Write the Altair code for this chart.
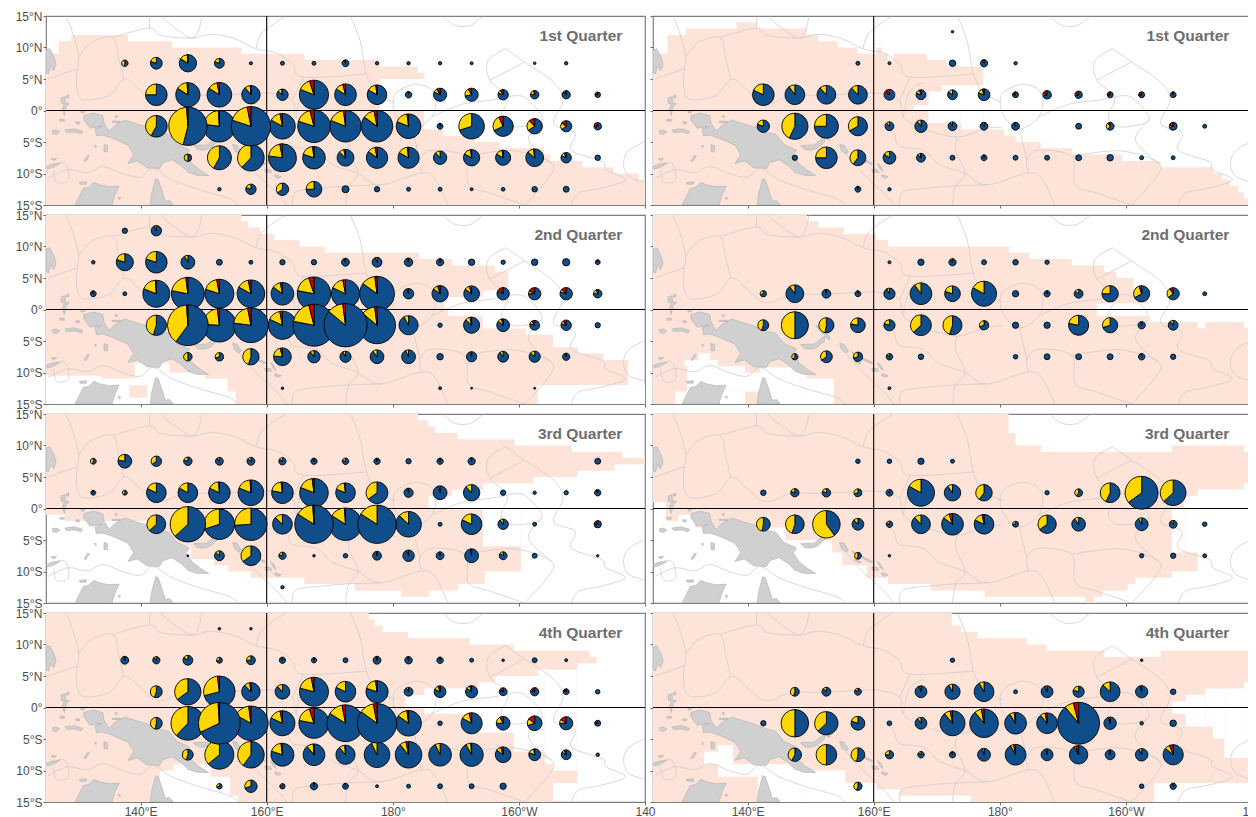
import math
import altair as alt
import pandas as pd

BLUE, YELLOW, RED = "#104E8B", "#FFD700", "#CD0000"
SALMON, LAND, LAND_EDGE, EEZ = "#FEE4D8", "#D0D0D0", "#A6A6A6", "#C9C9C9"
TITLES = ["1st Quarter", "1st Quarter", "2nd Quarter", "2nd Quarter",
          "3rd Quarter", "3rd Quarter", "4th Quarter", "4th Quarter"]

# pies: latitude -> (longitude, size, yellow share, red share)
P1 = {
 7.5: [(137.5,3.3,.45,0),(142.5,6,.2,0),(147.5,8.8,.15,.01),(152.5,5,.2,0),(157.5,1.6,0,0),(162.5,2,0,0),(167.5,2,0,0),(172.5,3.5,.05,0),(177.5,1.7,0,0),(182.5,1.7,0,0),(187.5,1.7,0,0),(192.5,1.5,0,0),(202.5,1.3,0,0),(207.5,1.7,0,0)],
 2.5: [(142.5,11,.25,0),(147.5,12.3,.15,.01),(152.5,12.5,.13,.03),(157.5,9.3,.1,.01),(162.5,5.8,.12,.02),(167.5,14.8,.14,.05),(172.5,11,.12,.04),(177.5,10,.15,.02),(182.5,3.3,.02,0),(187.5,6.7,.1,.08),(192.5,6.7,.2,.08),(197.5,5.3,.1,.1),(202.5,4.3,.2,.03),(207.5,4.2,.08,.03),(212.5,2.8,.03,.2)],
 -2.5: [(142.5,11,.42,0),(147.5,19.5,.45,.01),(152.5,16,.22,.01),(157.5,20,.17,.03),(162.5,13,.14,.03),(167.5,16.5,.16,.04),(172.5,16,.17,.02),(177.5,16,.12,.03),(182.5,12.5,.17,.02),(187.5,3,.03,0),(192.5,13,.3,0),(197.5,10.3,.25,.07),(202.5,7.8,.22,.12),(207.5,5.7,.2,.15),(212.5,3.8,.08,.25)],
 -7.5: [(147.5,3.8,.5,0),(152.5,12.2,.42,0),(157.5,13.5,.38,0),(162.5,14.2,.2,.03),(167.5,11.5,.18,.02),(172.5,8.5,.1,.03),(177.5,10.8,.12,.03),(182.5,10.7,.15,.02),(187.5,6.8,.12,0),(192.5,8.3,.15,.02),(197.5,7.7,.15,.02),(202.5,9,.12,.02),(207.5,5.3,.12,.06),(212.5,2.8,0,0)],
 -12.5: [(152.5,1.7,0,0),(157.5,5.3,.2,0),(162.5,6.3,.35,0),(167.5,8,.25,0),(172.5,3.6,0,0),(177.5,2.7,0,0),(182.5,2,0,0),(187.5,2,0,0),(192.5,1.5,0,0),(197.5,1.9,0,0),(202.5,2.8,0,0),(207.5,3,0,0)],
}
P2 = {
 12.5: [(172.5,1.3,0,0)],
 7.5: [(157.5,2,0,0),(162.5,1.5,0,0),(172.5,3.3,0,0),(177.5,3.7,.05,0),(182.5,1.7,0,0)],
 2.5: [(142.5,11,.18,0),(147.5,10,.1,0),(152.5,9.5,.12,0),(157.5,9.5,.12,0),(162.5,5.5,.05,.12),(167.5,5,.15,.05),(172.5,5,.15,0),(177.5,6,.15,.05),(182.5,3,.03,.2),(187.5,4.3,.1,.2),(192.5,3.8,.1,.2),(197.5,3,.03,.25),(202.5,3,.02,.25),(207.5,3,.02,.02)],
 -2.5: [(142.5,6.3,.2,0),(147.5,13.3,.43,0),(152.5,12.2,.25,0),(157.5,9.7,.33,0),(162.5,4.5,.12,0),(167.5,6.3,.1,0),(172.5,4.5,.08,0),(177.5,4,.08,0),(182.5,4,.08,.02),(192.5,3,0,0),(197.5,4,.3,.1),(207.5,4,.1,.2),(212.5,2,0,0)],
 -7.5: [(147.5,2.7,0,0),(152.5,11,.25,0),(157.5,8,.4,0),(162.5,6.5,.15,0),(167.5,4.5,.1,.02),(172.5,2.5,0,0),(177.5,3,.02,0),(182.5,2.5,0,0),(187.5,2.5,0,0),(192.5,3,0,0),(197.5,3.3,0,0),(202.5,2,0,0),(207.5,2,0,0)],
 -12.5: [(157.5,3,.02,0),(162.5,1.7,0,0)],
}
P3 = {
 12.5: [(137.5,2.7,0,0),(142.5,5.3,.06,0)],
 7.5: [(132.5,1.8,0,0),(137.5,8.7,.2,0),(142.5,11,.2,0),(147.5,7,.08,0),(152.5,3,0,0),(157.5,2,0,0),(162.5,2.7,0,0),(167.5,2.7,0,0),(172.5,4,.05,0),(177.5,5,.06,0),(182.5,4.3,.05,0),(187.5,3.7,.03,0),(192.5,3.3,0,0),(197.5,2.2,0,0),(202.5,3.3,0,0),(207.5,3.7,0,0),(212.5,2.5,0,.1)],
 2.5: [(132.5,3,.04,0),(137.5,2,0,0),(142.5,13.7,.18,.01),(147.5,16.7,.2,.02),(152.5,14.7,.17,.03),(157.5,14,.14,.03),(162.5,11.5,.12,.03),(167.5,17,.17,.05),(172.5,14.3,.15,.03),(177.5,17.7,.13,.02),(182.5,5.3,.05,0),(187.5,8.3,.1,.05),(192.5,8,.1,.05),(197.5,6.3,.05,.12),(202.5,6.3,.08,.17),(207.5,6.3,.07,.13),(212.5,4.3,.2,.05)],
 -2.5: [(142.5,10.3,.45,0),(147.5,20.7,.39,.01),(152.5,17,.22,.02),(157.5,17.7,.2,.03),(162.5,14.3,.15,.03),(167.5,21.3,.18,.04),(172.5,22,.12,.02),(177.5,18.8,.12,.02),(182.5,9.7,.08,0),(187.5,2.2,0,0),(192.5,8.2,.1,.03),(197.5,6.5,.1,.04),(202.5,5,.1,.1),(207.5,5.3,.1,.1),(212.5,2.7,0,0)],
 -7.5: [(147.5,4.3,.5,0),(152.5,4.3,.3,0),(157.5,8.3,.45,0),(162.5,9,.2,.04),(167.5,6.3,.1,0),(172.5,5.7,.08,0),(177.5,7,.1,0),(182.5,7,.07,0),(187.5,3.3,0,0),(192.5,5.2,.05,0),(197.5,5.5,.1,0),(202.5,5.7,.13,0),(207.5,3.7,.05,0)],
 -12.5: [(162.5,1.3,0,0),(187.5,1.5,0,0),(192.5,1,0,0),(202.5,1,0,0)],
}
P4 = {
 7.5: [(162.5,1.5,0,0),(167.5,3.2,0,0),(172.5,3.7,.08,0),(177.5,2.5,0,0),(182.5,2.8,0,0),(187.5,2.2,0,0)],
 2.5: [(142.5,3.2,.3,0),(147.5,9,.1,0),(152.5,4.5,.02,0),(157.5,3,.03,0),(162.5,5.7,.08,0),(167.5,11,.1,0),(172.5,8,.2,0),(177.5,12.7,.17,0),(182.5,3.2,0,0),(187.5,3.2,.03,0),(192.5,4.5,.15,0),(197.5,8.3,.25,0),(202.5,8.2,.28,.05),(207.5,6.2,.25,.1),(212.5,2,0,0)],
 -2.5: [(142.5,5.5,.45,0),(147.5,13.8,.5,0),(152.5,7.7,.47,0),(157.5,7.5,.22,0),(162.5,5.7,.2,0),(167.5,10.5,.37,0),(172.5,9.7,.45,0),(177.5,4.7,.3,0),(182.5,3.2,0,0),(187.5,3.2,0,0),(192.5,10.2,.22,0),(197.5,7.7,.3,0),(202.5,3.7,.03,0),(207.5,5,.1,0)],
 -7.5: [(147.5,3.2,.4,0),(152.5,6,.35,0),(157.5,4.7,.3,0),(162.5,3.3,.15,0),(167.5,2.8,0,0),(182.5,2.3,0,0),(187.5,3,0,0),(192.5,3,0,0),(197.5,3,0,0),(202.5,3.3,.02,0),(207.5,2.7,0,0)],
 -12.5: [(162.5,1.5,0,0)],
}
P5 = {
 7.5: [(132.5,3,.45,0),(137.5,7,.22,0),(142.5,5.3,.35,0),(147.5,4.3,.2,0),(152.5,4,.1,0),(157.5,4,.15,0),(162.5,3.7,.15,0),(167.5,3.2,.07,0),(172.5,3.3,.2,0),(177.5,3.2,.03,0),(182.5,2.7,0,0),(187.5,3.2,.02,0),(192.5,3.7,.02,0),(212.5,3,0,0)],
 2.5: [(132.5,2.5,.05,0),(137.5,2.5,.4,0),(142.5,10,.18,0),(147.5,10,.17,0),(152.5,11,.17,.01),(157.5,13,.18,.01),(162.5,11,.2,.02),(167.5,14.5,.17,.02),(172.5,10,.17,.02),(177.5,11,.35,0),(182.5,4.7,.03,0),(187.5,7,.03,0),(192.5,8.3,.12,0),(197.5,2.7,0,0),(202.5,1.7,0,0),(207.5,2.2,0,0),(212.5,3.2,.02,.08)],
 -2.5: [(142.5,9.5,.37,0),(147.5,18,.37,0),(152.5,15.5,.3,0),(157.5,16.5,.26,0),(162.5,10,.13,0),(167.5,19.5,.15,.01),(172.5,16.5,.15,.01),(177.5,19.5,.16,0),(182.5,13,.13,0),(187.5,2,0,0),(192.5,10.5,.18,0),(197.5,5.3,.1,0),(202.5,2,0,0),(212.5,3.7,.05,.2)],
 -7.5: [(147.5,1,0,0),(152.5,5,.13,0),(157.5,10,.35,0),(162.5,3.7,.2,0),(167.5,1.3,0,0),(172.5,2.3,0,0),(177.5,4.5,.03,0),(182.5,5.8,.05,0),(187.5,4,.02,0),(192.5,7,.02,0),(197.5,4,.15,0),(202.5,2.5,0,0),(212.5,1.2,0,0)],
 -12.5: [(162.5,1.7,0,0)],
}
P6 = {
 7.5: [(157.5,2.3,0,0),(162.5,2.3,0,0),(167.5,3.2,0,0),(172.5,2,0,0)],
 2.5: [(142.5,2.8,0,0),(147.5,4.2,.2,0),(152.5,4.3,.2,0),(157.5,4,.3,0),(162.5,3.5,.1,0),(167.5,13.7,.17,0),(172.5,8.3,.1,0),(177.5,8.3,.4,0),(187.5,2.2,0,0),(192.5,4,.4,0),(197.5,10,.43,0),(202.5,16.7,.35,0),(207.5,13,.37,0)],
 -2.5: [(142.5,7,.47,0),(147.5,9.5,.45,0),(152.5,14,.6,0),(157.5,6,.12,0),(162.5,3.3,.2,0),(167.5,9.5,.12,0),(172.5,11,.1,.05),(177.5,10,.15,.03),(182.5,3,.25,0),(187.5,9.3,.35,0),(192.5,7,.1,0),(202.5,6.5,.08,0),(207.5,4,.1,0),(212.5,2.3,0,0)],
 -7.5: [(157.5,3.5,.45,0),(162.5,1.3,0,0),(202.5,2.2,0,0),(207.5,2.7,0,0),(212.5,2,0,0)],
}
P7 = {
 12.5: [(152.5,1.3,0,0),(157.5,1.3,0,0)],
 7.5: [(137.5,4,.03,0),(142.5,3.7,.12,0),(147.5,5,.15,0),(152.5,3,.3,0),(157.5,4.5,.25,0),(162.5,3.2,.05,0),(167.5,2.7,.03,0),(172.5,2.5,0,0),(177.5,4,.03,0),(182.5,3.8,.03,0),(187.5,3.3,.03,0),(192.5,2,0,0),(197.5,1.3,0,0),(202.5,2.5,0,0),(207.5,1.5,0,0)],
 2.5: [(142.5,6,.45,0),(147.5,13.3,.35,0),(152.5,16,.27,.02),(157.5,9.3,.1,.02),(162.5,7.5,.12,0),(167.5,14.7,.18,.03),(172.5,10.5,.18,0),(177.5,11.3,.18,.02),(182.5,4.5,.08,0),(187.5,6,.13,.05),(192.5,6.2,.1,.05),(197.5,4,.07,.15),(202.5,4.2,.07,.15),(207.5,3,.03,.15),(212.5,2.3,0,0)],
 -2.5: [(142.5,6,.47,0),(147.5,17.2,.38,0),(152.5,21.3,.31,.01),(157.5,17.5,.15,.02),(162.5,12.7,.15,.03),(167.5,15.3,.17,.05),(172.5,18.7,.13,.03),(177.5,20,.12,.03),(182.5,13,.13,.02),(187.5,2.3,0,0),(192.5,10.7,.13,.04),(197.5,7,.17,.08),(202.5,7.5,.15,.15),(207.5,6.7,.1,.15),(212.5,3,.02,.2)],
 -7.5: [(147.5,5.5,.45,0),(152.5,14.7,.36,0),(157.5,13.5,.4,0),(162.5,11.7,.18,.02),(167.5,11,.1,.01),(172.5,9.7,.1,.01),(177.5,13,.07,0),(182.5,13.5,.08,.03),(187.5,11.5,.07,0),(192.5,11.8,.07,.01),(197.5,8,.1,.05),(202.5,6,.17,.02),(207.5,5,.1,.06),(212.5,1.8,0,0)],
 -12.5: [(152.5,2.8,.3,0),(157.5,6.3,.3,0),(162.5,2.7,.2,0),(167.5,3.7,.02,0),(172.5,3,.02,0),(177.5,1.5,0,0),(182.5,2,0,0),(187.5,2.5,0,0),(192.5,2.5,0,0),(197.5,3.2,0,0)],
}
P8 = {
 7.5: [(172.5,2.2,0,0),(202.5,1.3,0,0)],
 2.5: [(147.5,4.5,.45,0),(152.5,4.5,.12,0),(157.5,3.5,.15,0),(167.5,6,.04,0),(172.5,7.7,.08,0),(177.5,10,.08,0),(182.5,2,0,0),(187.5,6,.05,0),(192.5,5.7,.2,0),(197.5,10,.13,0),(202.5,6.2,.03,0),(207.5,2.8,0,0)],
 -2.5: [(142.5,2.7,0,0),(147.5,14,.5,0),(152.5,11.8,.37,0),(157.5,7,.2,0),(162.5,2.4,0,0),(167.5,6,.1,0),(172.5,12.7,.08,.03),(177.5,14.5,.08,.03),(182.5,11,.07,.02),(187.5,10.5,.08,.03),(192.5,21.3,.07,.04),(197.5,6.3,.03,.02),(202.5,1.8,0,0),(207.5,3.3,0,0)],
 -7.5: [(147.5,6.8,.42,0),(152.5,10.5,.5,0),(157.5,7,.47,0),(162.5,4.2,.25,0),(167.5,3.3,.15,0),(172.5,3.2,.06,0),(177.5,6.5,.05,0),(182.5,10.5,.05,.03),(187.5,6,.04,0),(192.5,9.3,.03,.05),(197.5,5,.03,0),(202.5,6.3,.07,0),(207.5,10.2,.08,.06)],
 -12.5: [(157.5,4.2,.45,0),(202.5,2.3,0,0),(207.5,3.2,.03,0)],
}
PIES = [P1, P2, P3, P4, P5, P6, P7, P8]

# shaded fishing area: stair edges (longitude, latitude) and white gaps (lon0, lon1, lat0, lat1)
TOP1 = [(125,9),(127,11),(129,12),(138,11),(145,10),(156,9),(166,8),(178,7),(184,6),(185,-3),(188,-4),(193,-5),(197,-6),(204,-7),(205,-8),(210,-9),(215,-10),(219,-11)]
TOP2 = [(125,9),(127.3,12),(130.2,13),(138.3,14),(141.4,13),(149.4,12),(151.2,11),(154.3,10),(157.4,9),(160.4,10),(161.3,9),(162.3,8),(163.2,9),(168.4,8),(171.5,7),(177.4,-3),(180.7,-4),(182.5,-5),(186.5,-6),(191.5,-7),(199.4,-8),(205.5,-9),(213.8,-10),(215.3,-11),(216.5,-12),(217.8,-13),(218.7,-14),(219.6,-15)]
TOP3 = [(125,15),(156,14),(157.1,13),(159,12),(161.2,11),(165.2,10),(169.2,9),(184.2,8),(189.4,7),(196.2,6),(198.3,-3),(201.1,-4),(205.4,-6),(209.4,-7),(213.4,-8),(217.3,-15)]
TOP4 = [(125,15),(149.4,14),(151.2,13),(155.3,12),(160.4,11),(162.3,10),(181.5,9),(184.7,8),(191.4,7),(196.6,6),(198.5,5),(201.2,3),(203.5,-2),(211.4,-3),(212.6,-2),(218.7,-3),(219.6,-4)]
TOP5 = [(125,15),(184,14),(185.5,13),(186.7,12),(190.3,11),(199.3,10),(208.4,9),(216.4,8)]
TOP6 = [(125,15),(181.4,12),(182.5,10),(186.5,9),(207.3,10),(218.7,9)]
TOP7 = [(125,15),(176.2,14),(177.1,13),(178.4,12),(182.4,11),(192.2,10),(199.2,9),(211.2,8),(212.3,-15)]
TOP8 = [(125,15),(172.4,13),(173.9,12),(176.4,11),(184.3,10),(187.4,9),(196.6,8),(205.5,9)]
BOT5 = [(125,-1),(128,-2),(141.5,-6),(148,-8),(151.7,-9),(153.8,-10),(157.5,-11),(166,-12),(174,-13),(181.4,-14),(185.7,-13),(190.3,-12),(194.6,-10),(200.3,4),(202.3,5),(209.3,6),(215.2,7)]
BOT6 = [(125,1),(127,-2),(129,-1),(131.6,-3),(146,-5),(153.4,-7),(155,-9),(158.9,-11),(162.3,-12),(169,-13),(177.6,-14),(193.5,-15),(195,-14),(196.3,-13),(200.3,-12),(201.5,-11),(207.3,-10),(211.4,3),(218.7,4)]
BOT7 = [(125,-15),(205.4,-12),(209.3,7),(212.3,-15)]
BOTTOMS = [[(125,-15)], [(125,-15)], [(125,-15)], [(125,-15)], BOT5, BOT6, BOT7, [(125,-15)]]
TOPS = [TOP1, TOP2, TOP3, TOP4, TOP5, TOP6, TOP7, TOP8]
GAPS = [
 [(178,185,0,5)],
 [(170.8,177.4,3,4),(168.7,177.4,.8,3),(166.4,177.4,0,.8),(168.7,173.9,-2,0),(173.9,177.4,-3,0)],
 [(188.2,194.3,0,2),(194.3,198.3,-3,3),(188.8,194.3,-1,0),(125,133.9,-15,-10.5),(133.9,138.2,-15,-11),(139.1,141.1,-12,-8.5),(138.2,141.1,-12,-11),(138.2,141.1,-15,-14),(141.1,144.6,-15,-8.5),(144.6,150.2,-15,-10),(150.2,153.8,-15,-11),(153.8,155.1,-15,-13),(203,220,-15,-12)],
 [(195.4,204.6,-1,1),(130,135.3,-9,-8),(132.2,134,-8,-7),(130.4,139.6,-13,-9),(128.5,139.6,-15,-13),(139.6,142,-13,-10),(142,149.4,-15,-9.2),(149.4,153.7,-15,-11)],
 [(185.7,194.3,0,2),(189.4,194.3,2,3),(194.3,200.3,-6,4)],
 [(207.3,209.3,-7,0),(209.3,211.4,-7,2)],
 [(182,185,0,2),(185,193.7,-1,3),(193.7,196.2,-4,4),(196.2,199.2,-4,5),(199.2,203,-7,5),(203,204.2,-7,6),(204.2,205.4,-9,6),(205.4,209.3,-10,6),(143.1,145.3,-15,-10),(145.3,151.1,-15,-9),(151.1,154.2,-15,-11),(154.2,155.4,-15,-14)],
 [(133.1,135.3,-9,-7),(135.3,137.7,-11,-6),(137.7,141.6,-11,-9),(141.6,149.4,-15,-9),(149.4,155.5,-15,-10),(155.5,160.4,-15,-12),(160.4,164.1,-15,-13),(164.1,175.4,-15,-14),(207.4,209.5,-1,1),(209.5,212.6,-3,2),(212.6,213.8,-3,3),(213.8,215.6,-5,3),(215.6,218.7,-8,3),(218.7,220,-8,4),(204.5,220,-15,-12)],
]

LAND_SHAPES = [
 [(131,-.8),(132.5,-.4),(134,-.8),(134.2,-2),(135,-3.3),(136,-2.3),(137.5,-1.5),(139,-2),(141,-2.6),(143,-3.4),(144.5,-3.8),(145.8,-5.4),(147,-5.9),(147.8,-6.3),(147.2,-7),(148.2,-8.5),(149.5,-9.5),(150.8,-10.3),(149,-10.3),(147.5,-9.8),(146.5,-8.8),(145,-7.8),(143.5,-8.3),(143,-9.2),(141,-9.1),(139.5,-8),(138,-8.4),(138.9,-7),(138,-5.5),(135.5,-4.4),(134,-3.9),(133,-4),(132.8,-2.9),(133.9,-2.5),(132,-2.8),(131,-1.5)],
 [(125,9.6),(125.6,9.8),(126.3,8.5),(126.6,7.3),(126.2,6.3),(125.7,7),(125.4,5.8),(125,6)],
 [(127.4,2),(128,2.2),(128.1,1.2),(128.7,1.1),(128.2,.6),(127.9,-.8),(127.6,.2),(127.9,1),(127.4,1.2)],
 [(128.2,2.3),(128.6,2.5),(128.6,2),(128.2,2)],
 [(127.2,-1.4),(127.9,-1.4),(127.9,-1.7),(127.2,-1.7)],
 [(126,-3.2),(126.6,-3.1),(127.2,-3.4),(126.7,-3.8),(126.1,-3.7)],
 [(128,-3.1),(129.5,-2.9),(130.8,-3.3),(130.6,-3.7),(129.5,-3.4),(128.3,-3.5)],
 [(129.7,-1.8),(130.3,-1.8),(130.3,-2.1),(129.8,-2.1)],
 [(130.5,-.1),(131.2,-.1),(131,-.4),(130.6,-.4)],
 [(134.2,-5.4),(134.8,-5.6),(134.7,-6.6),(134.2,-6.5)],
 [(132.7,-5.5),(133,-5.6),(132.9,-5.9)],
 [(131.6,-7.1),(131.9,-7.2),(131.3,-8.1),(131,-8)],
 [(125.8,-7.7),(126.7,-7.6),(126.3,-8)],
 [(125,-8.9),(126,-8.5),(127.2,-8.4),(126.2,-9),(125.2,-9.3)],
 [(135.5,-1.7),(136.8,-1.7),(136.8,-1.9),(135.5,-1.9)],
 [(135.9,-.9),(136.3,-.8),(136.2,-1.2)],
 [(148.4,-5.6),(149.5,-5.5),(150.5,-5.5),(151.3,-4.9),(152.2,-4.2),(152.2,-5),(151,-6),(150,-6.3),(149,-6.2)],
 [(150.8,-2.6),(151.8,-3),(152.8,-4),(153.1,-4.7),(152.6,-4.6),(151.6,-3.5)],
 [(146.7,-2),(147.4,-2),(147.4,-2.2),(146.7,-2.2)],
 [(154.6,-5.4),(155.3,-5.5),(156,-6.6),(155.6,-6.9),(154.9,-6.4)],
 [(156.5,-6.7),(157.4,-7.2),(157.5,-7.4),(156.7,-7)],
 [(158.2,-7.6),(159.8,-8.4),(159.7,-8.6),(158.2,-7.9)],
 [(157,-8),(158,-8.5),(157.8,-8.7),(157,-8.3)],
 [(159.7,-9.3),(160.6,-9.4),(160.8,-9.8),(159.8,-9.8)],
 [(160.6,-8.4),(161.1,-8.8),(161.5,-9.7),(161,-9.3)],
 [(161.3,-10.2),(162.3,-10.5),(161.8,-10.8),(161.3,-10.5)],
 [(136.4,-13.8),(136.8,-13.8),(136.7,-14.2)],
 [(130.3,-11.4),(131.4,-11.3),(131.4,-11.7),(130.4,-11.7)],
 [(129.6,-15),(130.6,-13),(130.9,-12.4),(131.8,-12.2),(132.6,-11.4),(133.5,-11.8),(135,-12.1),(136.6,-12),(136,-13.3),(135.5,-14.8),(135.6,-15)],
 [(141.5,-15),(141.8,-13),(142.4,-10.8),(142.8,-11),(143.4,-12.7),(143.9,-14.4),(144.6,-14.3),(145.2,-15)],
]

EEZ_LINES = [
 [(128.2,14.9),(129.3,12.1),(130.2,8.5),(129.9,6.1),(129.9,3.5),(131,1.7),(135,2.4),(137.4,5),(139.6,3.5),(142,1.4),(143.9,1.2),(146.9,2.4),(151.2,2.4),(157.4,2.7),(161,2.7),(164.1,1.6),(164.7,-1),(167.8,-2.9),(173.3,-4.2),(177.6,-2.9),(180.4,-2.6)],
 [(125.3,5),(129.9,6.6)],
 [(130.2,8.5),(132.2,10.8),(135.6,11.6),(136.5,8.5),(137.3,5)],
 [(135.6,11.6),(141.4,13.1),(143.2,11.9),(148.2,11.5),(151.2,12.1),(154.9,11.4),(158.3,9.8),(161.6,9.1),(164.1,7.4),(165.8,5.3),(175.8,5.8)],
 [(141.4,13.1),(141.5,14.9)],
 [(143.2,14.9),(148.2,11.5),(149.7,14.9)],
 [(158.3,9.8),(159.1,12.1),(161,13.7),(162.9,14.9)],
 [(173.3,14.9),(174.8,11.1),(175.8,5.8),(177.3,2.7)],
 [(165.8,5.3),(164.1,1.6)],
 [(173.3,-4.2),(173,-6.3),(174.5,-10),(173,-12),(172.5,-15)],
 [(161.6,-2),(163.2,-3.7),(164.1,-5.7),(167.8,-6.3),(170.2,-8.4),(172.7,-9.4),(174.5,-10),(178,-11.8),(184.6,-9.9),(186.8,-11),(188.7,-15)],
 [(184.6,-9.9),(184.3,-7.9),(186.2,-6.3),(191.4,-7.3),(192,-11.8),(195.4,-13.1),(200.9,-15)],
 [(191.4,-7.3),(199.1,-6.4),(205.2,-8.4),(204.5,-11),(200.9,-15)],
 [(125.3,-10.8),(128.5,-9.4),(131.6,-9.9),(134,-8.9),(137.1,-10),(139.9,-10.6),(142,-9.2),(145,-11),(149.4,-12.6),(153.9,-13.9),(155.5,-15)],
 [(125.3,-8.9),(127.9,-8.3),(128.6,-11),(126.7,-11.4),(126.2,-9.4)],
 [(155.5,-6.8),(157.7,-9.4),(161.6,-13.1),(163.2,-15)],
 [(164.1,-15),(164.7,-12.9),(169,-12.3),(172.5,-12),(178,-11.8)],
 [(188,14.9),(189.9,13.5),(192.3,13.5),(194.2,14.9)],
 [(197.9,9.8),(195.1,7.9),(195.4,4.8),(198.2,2.1),(197.2,-1),(199.1,-2.6),(203.7,-1.5),(200.9,2.1),(198.2,2.1)],
 [(197.9,9.8),(200.9,7.7),(205.5,4.5),(207,1.6),(205.5,-2.1),(208.9,-3.6),(208.3,-6.3),(213.2,-8.1),(213.8,-9.4),(216.9,-11),(213.2,-12.3),(209.5,-13.1),(208.3,-15)],
 [(200.9,7.7),(195.4,4.8)],
 [(203.7,-1.5),(201.5,-4.7),(205.2,-8.4)],
 [(220.5,-4.7),(217.5,-6.3),(216.6,-8.4),(217.5,-10.5),(220.5,-11.5)],
 [(183.4,4.2),(180.4,2.7),(180.4,-.5),(183.1,-2.9),(186.2,-1),(186.8,2.1),(185.6,3.7),(183.4,4.2)],
 [(168,4.5),(165.7,3),(164.7,-1)],
 [(177.3,2.7),(180.4,1.2)],
 [(186.2,-1),(191,1),(195.4,1.6),(198.2,2.1)],
 [(183.1,-2.9),(184.3,-7.9)],
]


def stair_value(edge, x):
    v = edge[0][1]
    for lon, lat in edge:
        if lon <= x:
            v = lat
    return v


def shade_frame(top, bottom):
    xs = sorted({p[0] for p in top} | {p[0] for p in bottom} | {220})
    return pd.DataFrame([{"lon": x, "top": stair_value(top, x), "bot": stair_value(bottom, x)} for x in xs])


def pie_frame(rows):
    recs = []
    items = sorted(((r, lon, lat, y, red) for lat, lst in rows.items() for lon, r, y, red in lst))
    for i, (r, lon, lat, y, red) in enumerate(items):
        b = 1 - y - red
        start = 0.0
        for name, share in (("b", b), ("y", y), ("r", red)):
            if share > 0:
                recs.append({"n": i, "lon": lon, "lat": lat, "size": r, "s": name,
                             "t0": start * 2 * math.pi, "t1": (start + share) * 2 * math.pi})
                start += share
    return pd.DataFrame(recs)


def path_frame(paths, close=False):
    recs = []
    for k, path in enumerate(paths):
        pts = list(path) + ([path[0]] if close else [])
        for j, (lon, lat) in enumerate(pts):
            recs.append({"k": k, "j": j, "lon": lon, "lat": lat})
    return pd.DataFrame(recs)


land_df = path_frame(LAND_SHAPES, close=True)
eez_df = path_frame(EEZ_LINES)
xs = alt.Scale(domain=[125, 220], nice=False, zero=False)
ys = alt.Scale(domain=[-15, 15], nice=False, zero=False)
XEXPR = ("datum.value < 180 ? datum.value + '°E' : datum.value == 180 ? '180°' : "
         "datum.value == 220 ? '140' : (360 - datum.value) + '°W'")
YEXPR = ("datum.value == 0 ? '0°' : datum.value > 0 ? datum.value + '°N' : (-datum.value) + '°S'")
TICK = "#6E6E6E"


def panel(i):
    left = i % 2 == 0
    bottom_row = i >= 6
    xaxis = alt.Axis(values=[140, 160, 180, 200, 220], labels=bottom_row, labelExpr=XEXPR, grid=False,
                     domain=False, tickColor=TICK, tickSize=3, labelColor="#4D4D4D", labelFontSize=12,
                     labelFont="Liberation Sans", labelPadding=1, labelFlush=False, labelBound=False,
                     labelOverlap=False, title=None)
    yaxis = alt.Axis(values=[-15, -10, -5, 0, 5, 10, 15], labels=left, labelExpr=YEXPR, grid=False,
                     domain=False, tickColor=TICK, tickSize=3, labelColor="#4D4D4D", labelFontSize=12,
                     labelFont="Liberation Sans", labelPadding=1, labelFlush=False, labelBound=False,
                     labelOverlap=False, title=None)
    X = lambda f: alt.X(f, type="quantitative", scale=xs, axis=xaxis, title=None)
    Y = lambda f: alt.Y(f, type="quantitative", scale=ys, axis=yaxis, title=None)

    shade = alt.Chart(shade_frame(TOPS[i], BOTTOMS[i])).mark_area(
        interpolate="step-after", color=SALMON, clip=True).encode(
        x=X("lon"),
        y=alt.Y("top:Q", scale=ys, axis=yaxis, stack=None, title=None),
        y2="bot:Q")
    gaps = alt.Chart(pd.DataFrame(GAPS[i], columns=["a", "b", "c", "d"])).mark_rect(
        color="white", clip=True).encode(x=X("a"), x2="b", y=Y("c"), y2="d")
    land = alt.Chart(land_df).mark_line(fill=LAND, stroke=LAND_EDGE, strokeWidth=.5, clip=True).encode(
        x=X("lon"), y=Y("lat"), detail="k:N", order="j:Q")
    eez = alt.Chart(eez_df).mark_line(stroke=EEZ, strokeWidth=.7, clip=True, interpolate="cardinal").encode(
        x=X("lon"), y=Y("lat"), detail="k:N", order="j:Q")
    hline = alt.Chart(pd.DataFrame({"v": [0]})).mark_rule(color="black", strokeWidth=1.1).encode(y=Y("v"))
    vline = alt.Chart(pd.DataFrame({"v": [160]})).mark_rule(color="black", strokeWidth=1.1).encode(x=X("v"))
    pies = alt.Chart(pie_frame(PIES[i])).mark_arc(stroke="black", strokeWidth=.9).encode(
        x=X("lon"), y=Y("lat"),
        theta=alt.Theta("t0:Q", scale=None, stack=None), theta2="t1:Q",
        radius=alt.Radius("size:Q", scale=alt.Scale(domain=[0, 25], range=[0, 24.6])),
        color=alt.Color("s:N", scale=alt.Scale(domain=["b", "y", "r"], range=[BLUE, YELLOW, RED]), legend=None))
    label = alt.Chart(pd.DataFrame({"lon": [216.4], "lat": [11.8], "t": [TITLES[i]]})).mark_text(
        align="right", baseline="middle", fontWeight="bold", fontSize=15.5, color="#6E6E6E",
        font="Liberation Sans").encode(x=X("lon"), y=Y("lat"), text="t:N")
    return alt.layer(shade, gaps, land, eez, hline, vline, pies, label).properties(width=599, height=189)


chart = alt.ConcatChart(concat=[panel(i) for i in range(8)], columns=2,
                        spacing=alt.RowColnumber(row=10, column=8), bounds="flush",
                        padding={"left": 6, "top": 1, "right": -15, "bottom": -1}
                        ).resolve_scale(x="independent", y="independent").configure_view(
    stroke="#7F7F7F", strokeWidth=1.2).configure_concat(spacing=8)

chart.save("out.html", embed_options={"renderer": "svg", "actions": False})
